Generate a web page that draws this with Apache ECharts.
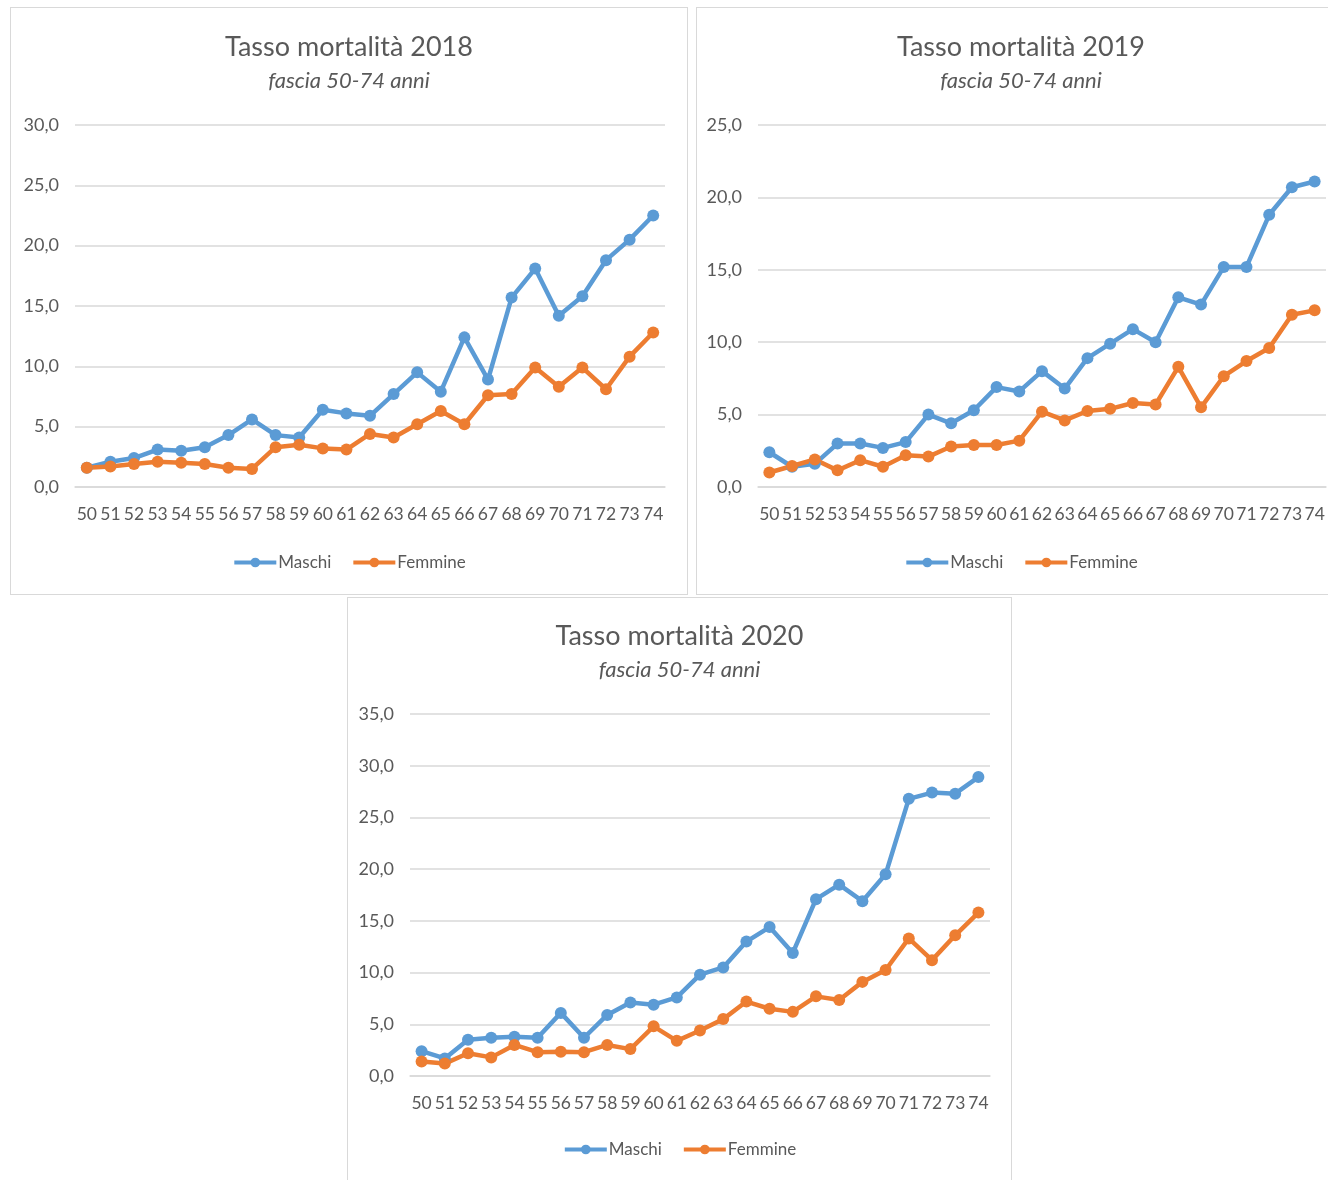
<!DOCTYPE html>
<html>
<head>
    <meta charset="utf-8">
    <title>Tasso mortalità</title>
    <script src="https://cdn.jsdelivr.net/npm/echarts@6.0.0/dist/echarts.min.js"></script>
    <style>
        body { margin: 0; background: #fff; }
        .box { position: absolute; border: 1px solid #d9d9d9; background: #fff; }
    </style>
</head>
<body>
    <div id="chart2018" class="box" style="left:10px; top:7px; width:676px; height:586px;"></div>
    <div id="chart2019" class="box" style="left:696px; top:7px; width:648px; height:586px;"></div>
    <div id="chart2020" class="box" style="left:347px; top:597px; width:663px; height:586px;"></div>

    <script type="text/javascript">
        // età 50-74
        var eta = ['50', '51', '52', '53', '54', '55', '56', '57', '58', '59', '60', '61', '62',
            '63', '64', '65', '66', '67', '68', '69', '70', '71', '72', '73', '74'];

        var maschi2018 = [1.6, 2.1, 2.4, 3.1, 3.0, 3.3, 4.3, 5.6, 4.3, 4.1, 6.4, 6.1, 5.9,
            7.7, 9.5, 7.9, 12.4, 8.9, 15.7, 18.1, 14.2, 15.8, 18.8, 20.5, 22.5];
        var femmine2018 = [1.6, 1.7, 1.9, 2.1, 2.0, 1.9, 1.6, 1.5, 3.3, 3.5, 3.2, 3.1, 4.4,
            4.1, 5.2, 6.3, 5.2, 7.6, 7.7, 9.9, 8.3, 9.9, 8.1, 10.8, 12.8];

        var maschi2019 = [2.4, 1.4, 1.6, 3.0, 3.0, 2.7, 3.1, 5.0, 4.4, 5.3, 6.9, 6.6, 8.0,
            6.8, 8.9, 9.9, 10.9, 10.0, 13.1, 12.6, 15.2, 15.2, 18.8, 20.7, 21.1];
        var femmine2019 = [1.0, 1.45, 1.9, 1.15, 1.85, 1.4, 2.2, 2.1, 2.8, 2.9, 2.9, 3.2, 5.2,
            4.6, 5.25, 5.4, 5.8, 5.7, 8.3, 5.5, 7.65, 8.7, 9.6, 11.9, 12.2];

        var maschi2020 = [2.4, 1.7, 3.5, 3.7, 3.8, 3.7, 6.1, 3.7, 5.9, 7.1, 6.9, 7.6, 9.8,
            10.5, 13.0, 14.4, 11.9, 17.1, 18.5, 16.9, 19.5, 26.8, 27.4, 27.3, 28.9];
        var femmine2020 = [1.4, 1.2, 2.2, 1.8, 3.0, 2.3, 2.35, 2.3, 3.0, 2.6, 4.8, 3.4, 4.4,
            5.5, 7.2, 6.5, 6.2, 7.7, 7.35, 9.1, 10.25, 13.3, 11.2, 13.6, 15.8];

        var fontName = 'Lato, "Open Sans", sans-serif';
        var grigio = '#595959';

        function opzioni(titolo, yMax, maschi, femmine, g) {
            return {
                animation: false,
                textStyle: { fontFamily: fontName },
                title: [
                    {
                        text: titolo,
                        left: 'center',
                        top: g.titleTop,
                        padding: 0,
                        textStyle: { fontFamily: fontName, fontSize: 27, lineHeight: 28, fontWeight: 'normal', color: grigio }
                    },
                    {
                        text: 'fascia 50-74 anni',
                        left: 'center',
                        top: g.titleTop + 37,
                        padding: 0,
                        textStyle: { fontFamily: fontName, fontSize: 22, lineHeight: 22, fontStyle: 'italic', fontWeight: 'normal', color: grigio }
                    }
                ],
                legend: {
                    top: g.legendTop,
                    left: 'center',
                    itemWidth: 42,
                    itemHeight: 12,
                    itemGap: 20,
                    lineStyle: { width: 4 },
                    textStyle: { fontFamily: fontName, fontSize: 17, color: grigio, padding: [0, 0, 0, -3] },
                    data: ['Maschi', 'Femmine']
                },
                grid: { left: g.left, right: g.right, top: g.top, bottom: g.bottom },
                xAxis: {
                    type: 'category',
                    data: eta,
                    boundaryGap: true,
                    axisLine: { lineStyle: { color: '#d9d9d9', width: 1.5 } },
                    axisTick: { show: false },
                    axisLabel: { interval: 0, margin: 18, fontSize: 17.5, color: grigio, fontFamily: fontName }
                },
                yAxis: {
                    type: 'value',
                    min: 0,
                    max: yMax,
                    interval: 5,
                    axisLine: { show: false },
                    axisTick: { show: false },
                    splitLine: { lineStyle: { color: '#d9d9d9', width: 1.5 } },
                    axisLabel: {
                        margin: 16,
                        fontSize: 18,
                        color: grigio,
                        fontFamily: fontName,
                        formatter: function (v) { return v.toFixed(1).replace('.', ','); }
                    }
                },
                series: [
                    {
                        name: 'Maschi',
                        type: 'line',
                        data: maschi,
                        symbol: 'circle',
                        symbolSize: 12,
                        color: '#5B9BD5',
                        lineStyle: { width: 4.5, color: '#5B9BD5' }
                    },
                    {
                        name: 'Femmine',
                        type: 'line',
                        data: femmine,
                        symbol: 'circle',
                        symbolSize: 12,
                        color: '#ED7D31',
                        lineStyle: { width: 4.5, color: '#ED7D31' }
                    }
                ]
            };
        }

        var myChart = echarts.init(document.getElementById('chart2018'));
        var myChart1 = echarts.init(document.getElementById('chart2019'));
        var myChart2 = echarts.init(document.getElementById('chart2020'));

        myChart.setOption(opzioni('Tasso mortalità 2018', 30, maschi2018, femmine2018,
            { left: 64, right: 22, top: 117, bottom: 107, titleTop: 25, legendTop: 541 }));
        myChart1.setOption(opzioni('Tasso mortalità 2019', 25, maschi2019, femmine2019,
            { left: 61, right: 19, top: 117, bottom: 107, titleTop: 25, legendTop: 541 }));
        myChart2.setOption(opzioni('Tasso mortalità 2020', 35, maschi2020, femmine2020,
            { left: 62, right: 21, top: 116, bottom: 108, titleTop: 24, legendTop: 538 }));
    </script>
</body>
</html>
